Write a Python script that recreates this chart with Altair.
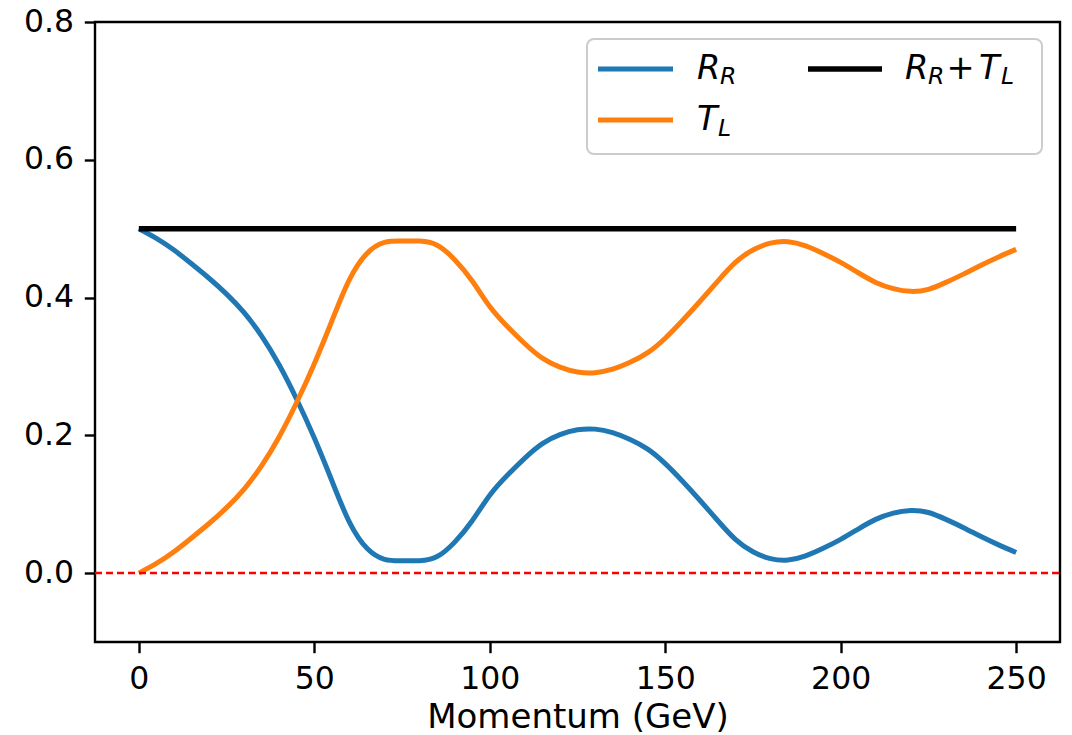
import altair as alt
import pandas as pd

# ---- data ----
momentum = [0, 5, 10, 15, 20, 25, 30, 35, 40, 45, 50, 55, 60, 65, 70, 75, 80, 85, 90, 95,
            100, 105, 110, 115, 120, 125, 130, 135, 140, 145, 150, 155, 160, 165, 170, 175,
            180, 185, 190, 195, 200, 205, 210, 215, 220, 225, 230, 235, 240, 245, 250]
r_r = [0.500, 0.486, 0.469, 0.449, 0.428, 0.405, 0.378, 0.344, 0.302, 0.252,
       0.196, 0.134, 0.074, 0.036, 0.020, 0.018, 0.018, 0.024, 0.045, 0.076,
       0.113, 0.142, 0.167, 0.188, 0.201, 0.208, 0.209, 0.204, 0.194, 0.180,
       0.159, 0.133, 0.105, 0.076, 0.049, 0.031, 0.021, 0.019, 0.025, 0.036,
       0.049, 0.064, 0.078, 0.087, 0.091, 0.088, 0.078, 0.066, 0.053, 0.041, 0.030]
t_l = [0.000, 0.014, 0.031, 0.051, 0.072, 0.095, 0.122, 0.156, 0.198, 0.248,
       0.304, 0.366, 0.426, 0.464, 0.480, 0.482, 0.482, 0.476, 0.455, 0.424,
       0.387, 0.358, 0.333, 0.312, 0.299, 0.292, 0.291, 0.296, 0.306, 0.320,
       0.341, 0.367, 0.395, 0.424, 0.451, 0.469, 0.479, 0.481, 0.475, 0.464,
       0.451, 0.436, 0.422, 0.413, 0.409, 0.412, 0.422, 0.434, 0.447, 0.459, 0.470]
sum_x = [0, 250]
sum_y = [0.5, 0.5]
zero_y = [0.0]

x_ticks = [0, 50, 100, 150, 200, 250]
y_ticks = [0.0, 0.2, 0.4, 0.6, 0.8]

W, H = 965, 620
FONT = "DejaVu Sans"

df = pd.DataFrame({"p": momentum, "r": r_r, "t": t_l})
df_sum = pd.DataFrame({"p": sum_x, "s": sum_y})
df_zero = pd.DataFrame({"z": zero_y})

xs = alt.Scale(domain=[-12.5, 262.5], nice=False, zero=False)
ys = alt.Scale(domain=[-0.1, 0.8], nice=False, zero=False)

x_enc = alt.X("p:Q", scale=xs, title="Momentum (GeV)",
              axis=alt.Axis(values=x_ticks, format="d", labelBaseline="alphabetic",
                            labelPadding=35.6, titleY=85, titleBaseline="alphabetic"))
y_axis = alt.Axis(values=y_ticks, format=".1f", labelPadding=10.7)

LW = 5
INTERP = "natural"

blue = alt.Chart(df).mark_line(color="#1f77b4", strokeWidth=LW, interpolate=INTERP).encode(
    x=x_enc, y=alt.Y("r:Q", scale=ys, axis=y_axis, title=""))
orange = alt.Chart(df).mark_line(color="#ff7f0e", strokeWidth=LW, interpolate=INTERP).encode(
    x=alt.X("p:Q", scale=xs), y=alt.Y("t:Q", scale=ys))
black = alt.Chart(df_sum).mark_line(color="black", strokeWidth=5.5).encode(
    x=alt.X("p:Q", scale=xs), y=alt.Y("s:Q", scale=ys))
zero = alt.Chart(df_zero).mark_rule(color="red", strokeDash=[7, 4], strokeWidth=2.5).encode(
    y=alt.Y("z:Q", scale=ys), x=alt.value(0), x2=alt.value(W))

one = alt.Data(values=[{"k": 1}])


def leg_text(s, x, y, size, style="italic", align="left"):
    return alt.Chart(one).mark_text(text=s, align=align, baseline="alphabetic", fontSize=size,
                                    fontStyle=style, font=FONT, color="black").encode(
        x=alt.value(x), y=alt.value(y))


def leg_line(color, x1, x2, y, w=LW):
    return alt.Chart(one).mark_rule(color=color, strokeWidth=w).encode(
        x=alt.value(x1), x2=alt.value(x2), y=alt.value(y))


box = alt.Chart(one).mark_rect(fill="white", fillOpacity=0.8, stroke="#cccccc", strokeWidth=2,
                               cornerRadius=7).encode(
    x=alt.value(492), x2=alt.value(947), y=alt.value(17), y2=alt.value(132))

MS, SS = 33.6, 23.5
legend = [
    box,
    leg_line("#1f77b4", 503, 578, 47),
    leg_line("#ff7f0e", 503, 578, 98),
    leg_line("black", 713, 787, 47, 5.5),
    leg_text("R", 602, 57, MS),
    leg_text("R", 625, 62, SS),
    leg_text("T", 602, 108, MS),
    leg_text("L", 623, 114, SS),
    leg_text("R", 810, 57, MS),
    leg_text("R", 833, 62, SS),
    leg_text("+", 865.5, 57, MS, style="normal", align="center"),
    leg_text("T", 884, 57, MS),
    leg_text("L", 906, 62, SS),
]

chart = alt.layer(blue, orange, black, zero, *legend).properties(
    width=W, height=H,
    background="white",
    autosize=alt.AutoSizeParams(type="none"),
    padding={"left": 95, "top": 22, "right": 12, "bottom": 93},
).configure_view(stroke="black", strokeWidth=2.4).configure_axis(
    grid=False, domain=False, ticks=True, tickColor="black", tickWidth=2.4, tickSize=10.7,
    labelFont=FONT, labelFontSize=31.5, labelColor="black",
    titleFont=FONT, titleFontSize=34, titleFontWeight="normal", titleColor="black",
)

chart.save("out.html", embed_options={"renderer": "svg", "actions": False})
